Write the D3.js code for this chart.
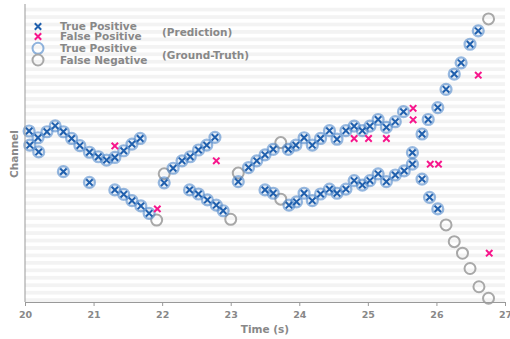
<!DOCTYPE html>
<html>
<head>
<meta charset="utf-8">
<script src="https://cdn.jsdelivr.net/npm/d3@7"></script>
<style>
  body { margin: 0; background: #fff; }
  text { font-family: "DejaVu Sans", sans-serif; font-weight: bold; fill: #888; }
</style>
</head>
<body>
<div id="chart"></div>
<script>
// [time (s), channel]
var truePositives = [
  [20.06, 45.9], [20.07, 42.1], [20.19, 44.1], [20.20, 40.3], [20.32, 45.7], [20.44, 47.3],
  [20.56, 45.7], [20.68, 43.9], [20.80, 42.0], [20.94, 40.2], [21.07, 39.0], [21.19, 38.1],
  [21.31, 38.8], [21.44, 40.6], [21.56, 42.4], [21.68, 43.9],
  [20.56, 35.0], [20.94, 32.1],
  [21.31, 30.1], [21.44, 28.9], [21.56, 27.2], [21.69, 25.8], [21.81, 23.8],
  [22.03, 32.0], [22.16, 35.9], [22.29, 37.9], [22.41, 39.0], [22.53, 40.8], [22.65, 42.1], [22.77, 44.2],
  [22.40, 30.1], [22.53, 29.0], [22.66, 27.4], [22.79, 26.0], [22.89, 24.5],
  [23.11, 32.3], [23.26, 36.1], [23.38, 37.9], [23.50, 39.5], [23.62, 41.0], [23.84, 41.0],
  [23.95, 42.1], [24.07, 44.1], [24.19, 42.1], [24.31, 43.9], [24.44, 46.0], [24.55, 43.7],
  [24.68, 46.0], [24.80, 47.2], [24.92, 46.0], [25.03, 47.2], [25.15, 49.0], [25.27, 46.9],
  [25.40, 48.4], [25.52, 51.1],
  [23.50, 30.1], [23.62, 29.2], [23.85, 26.0], [23.96, 26.9], [24.07, 29.2], [24.19, 27.2],
  [24.31, 29.0], [24.44, 30.3], [24.55, 29.2], [24.68, 30.3], [24.80, 32.6], [24.92, 31.4],
  [25.03, 32.6], [25.15, 34.4], [25.27, 32.3], [25.40, 34.1], [25.53, 35.2], [25.65, 37.0], [25.65, 40.1],
  [25.79, 45.1], [25.88, 49.0], [26.02, 52.2], [26.14, 57.1], [26.26, 61.2], [26.36, 64.2],
  [26.49, 69.2], [26.61, 72.8],
  [25.79, 33.0], [25.90, 28.1], [26.02, 25.0]
];
var falsePositives = [
  [21.31, 41.9], [21.93, 25.0], [22.79, 37.9], [24.80, 43.9], [25.01, 43.9], [25.27, 43.9],
  [25.66, 52.0], [25.66, 48.9], [25.91, 37.0], [26.03, 37.0], [26.61, 60.9], [26.77, 13.1]
];
var falseNegatives = [
  [21.92, 22.0], [22.03, 34.4], [23.00, 22.2], [23.11, 34.6], [23.73, 42.8], [23.73, 27.6],
  [26.14, 20.7], [26.26, 16.2], [26.38, 13.1], [26.49, 9.0], [26.62, 4.1], [26.76, 1.0], [26.76, 76.0]
];
var xTicks = [20, 21, 22, 23, 24, 25, 26, 27];
var channelCount = 80;

var svgWidth = 510, svgHeight = 339;
var margin = { top: 4, right: 5, bottom: 37, left: 25 };
var width = svgWidth - margin.left - margin.right;
var height = svgHeight - margin.top - margin.bottom;

var blue = "#1f5fad", pink = "#f7168c", gray = "#a8a8a8";

var svg = d3.select("#chart").append("svg")
  .attr("width", svgWidth)
  .attr("height", svgHeight);

var x = d3.scaleLinear().domain([20, 27]).range([0, width]);
var y = d3.scaleLinear().domain([0, channelCount]).range([height, 0]);

var g = svg.append("g")
  .attr("transform", "translate(" + margin.left + "," + margin.top + ")");

// channel stripes
g.selectAll("rect.stripe")
  .data(d3.range(0, channelCount, 2))
  .enter().append("rect")
  .attr("class", "stripe")
  .attr("x", 0)
  .attr("width", width)
  .attr("y", function (d) { return y(d + 1); })
  .attr("height", function (d) { return y(d) - y(d + 1); })
  .attr("fill", "#f3f3f3");

function cross(sel, color) {
  var s = 3.2;
  sel.append("path")
    .attr("d", "M" + (-s) + "," + (-s) + "L" + s + "," + s + "M" + (-s) + "," + s + "L" + s + "," + (-s))
    .attr("stroke", color)
    .attr("stroke-width", 2)
    .attr("fill", "none");
}

// ground truth circles
g.selectAll("circle.fn")
  .data(falseNegatives)
  .enter().append("circle")
  .attr("class", "fn")
  .attr("cx", function (d) { return x(d[0]); })
  .attr("cy", function (d) { return y(d[1]); })
  .attr("r", 5.5)
  .attr("fill", "none")
  .attr("stroke", gray)
  .attr("stroke-width", 2);

g.selectAll("circle.tp")
  .data(truePositives)
  .enter().append("circle")
  .attr("class", "tp")
  .attr("cx", function (d) { return x(d[0]); })
  .attr("cy", function (d) { return y(d[1]); })
  .attr("r", 5.5)
  .attr("fill", "rgba(80,140,205,0.12)")
  .attr("stroke", "rgba(70,130,200,0.55)")
  .attr("stroke-width", 2.2);

// predictions
g.selectAll("g.tpx")
  .data(truePositives)
  .enter().append("g")
  .attr("class", "tpx")
  .attr("transform", function (d) { return "translate(" + x(d[0]) + "," + y(d[1]) + ")"; })
  .call(cross, blue);

g.selectAll("g.fpx")
  .data(falsePositives)
  .enter().append("g")
  .attr("class", "fpx")
  .attr("transform", function (d) { return "translate(" + x(d[0]) + "," + y(d[1]) + ")"; })
  .call(cross, pink);

// axes
var xAxis = g.append("g")
  .attr("transform", "translate(0," + height + ")")
  .call(d3.axisBottom(x).tickValues(xTicks).tickFormat(d3.format("d")).tickSize(4).tickSizeOuter(0));
xAxis.select(".domain").attr("stroke", "#999");
xAxis.selectAll(".tick line").attr("stroke", "#999");
xAxis.selectAll(".tick text")
  .attr("font-size", "9.5px")
  .attr("font-family", "DejaVu Sans")
  .attr("fill", "#888")
  .attr("dy", "0.9em");

g.append("line")
  .attr("x1", 0).attr("x2", 0)
  .attr("y1", 0).attr("y2", height)
  .attr("stroke", "#999");

svg.append("text")
  .attr("x", margin.left + width / 2)
  .attr("y", 333)
  .attr("text-anchor", "middle")
  .attr("font-size", "10.5px")
  .text("Time (s)");

svg.append("text")
  .attr("transform", "translate(18,154) rotate(-90)")
  .attr("text-anchor", "middle")
  .attr("font-size", "10.5px")
  .text("Channel");

// legend
var legend = [
  { label: "True Positive", kind: "x", color: blue },
  { label: "False Positive", kind: "x", color: pink },
  { label: "True Positive", kind: "o", color: "rgba(70,130,200,0.6)" },
  { label: "False Negative", kind: "o", color: gray }
];
var legendY = [26.5, 36.5, 48.3, 60];
var lg = svg.append("g");
legend.forEach(function (item, i) {
  var row = lg.append("g").attr("transform", "translate(38," + legendY[i] + ")");
  if (item.kind === "x") {
    cross(row, item.color);
  } else {
    row.append("circle").attr("r", 5.5).attr("fill", "none")
      .attr("stroke", item.color).attr("stroke-width", 2);
  }
  row.append("text")
    .attr("x", 22)
    .attr("dy", "0.35em")
    .attr("font-size", "10.5px")
    .text(item.label);
});
lg.append("text").attr("x", 162).attr("y", 32).attr("dy", "0.35em")
  .attr("font-size", "10.5px").text("(Prediction)");
lg.append("text").attr("x", 162).attr("y", 55).attr("dy", "0.35em")
  .attr("font-size", "10.5px").text("(Ground-Truth)");
</script>
</body>
</html>
